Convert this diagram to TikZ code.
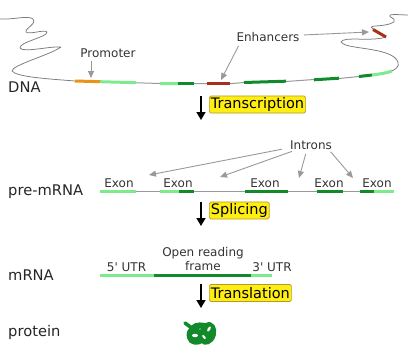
\documentclass[tikz,border=0pt]{standalone}
\usepackage{fontspec}
\setmainfont{DejaVu Sans}
\newfontfamily\plainfont{DejaVu Sans}
\usetikzlibrary{arrows.meta}
\definecolor{lightex}{HTML}{7EEA8E}
\definecolor{darkex}{HTML}{128A2B}
\definecolor{promo}{HTML}{E8941A}
\definecolor{enh}{HTML}{A8301A}
\definecolor{strand}{HTML}{999999}
\definecolor{lbl}{HTML}{333333}
\definecolor{stepfill}{HTML}{FFEE11}
\definecolor{stepline}{HTML}{B09A30}
\tikzset{
  x=1pt,y=-1pt,
  strandline/.style={draw=strand,line width=1pt},
  thinstrand/.style={draw=strand!80!black,line width=0.75pt,line join=round},
  seg/.style={line width=3pt},
  tag/.style={text=lbl,font=\plainfont\fontsize{12}{14}\selectfont,inner sep=0pt,align=center},
  rowlabel/.style={text=black!85,font=\fontsize{14.7}{17}\selectfont,inner sep=0pt,anchor=west},
  stepbox/.style={fill=stepfill,draw=stepline,line width=0.7pt,rounded corners=1.5pt,inner xsep=1.5pt,inner ysep=1.5pt,text=black,font=\fontsize{14.5}{16}\selectfont,anchor=west,minimum height=17pt},
  flow/.style={draw=black,line width=1.5pt,-{Triangle[length=8pt,width=9pt]}},
  pointer/.style={draw=strand,line width=0.9pt,-{Triangle[length=7pt,width=6pt]},shorten <=1pt}
}
\begin{document}
\begin{tikzpicture}
\useasboundingbox (0,0) rectangle (408,356);
% DNA strand
\draw[thinstrand]
  (0,19) .. controls (12,20) and (28,15) .. (33,19)
  .. controls (37,24) and (25,28) .. (26,32)
  .. controls (30,35) and (44,29) .. (47,32)
  .. controls (48,37) and (19,42) .. (20,48)
  .. controls (23,53) and (50,46) .. (61,47)
  .. controls (50,55) and (12,65) .. (12,71)
  .. controls (16,77) and (50,79) .. (75,81);
\draw[strandline] (100,81.7) -- (160,83.5) (194,83.7) -- (207,83.7) (230,83.7) -- (244,82.5) (286,81.5) -- (314,79.5) (339,78.5) -- (359,76.5);
\draw[thinstrand]
  (392,71) .. controls (398,68) and (402,64) .. (394,57)
  .. controls (380,47) and (345,49) .. (341,42)
  .. controls (343,36) and (372,42) .. (386,37);
\draw[thinstrand]
  (373,29) .. controls (366,24) and (384,28) .. (394,22)
  .. controls (396,17) and (388,18) .. (390,15)
  .. controls (394,14) and (402,15) .. (408,15);
\draw[seg,promo] (75,81) -- (100,81.7);
\draw[seg,lightex] (100,81.7) -- (136,82.7);
\draw[seg,lightex] (160,83.5) -- (178,83.7);
\draw[seg,darkex] (178,83.7) -- (194,83.7);
\draw[seg,enh] (207,83.7) -- (230,83.7);
\draw[seg,darkex] (244,82.5) -- (286,81.2);
\draw[seg,darkex] (314,79.8) -- (339,78.2);
\draw[seg,darkex] (359,76.5) -- (372,75);
\draw[seg,lightex] (372,75) .. controls (380,74) and (387,73) .. (392,71);
\draw[seg,enh] (373,29.5) -- (386,37);
% DNA annotations
\node[tag] (promoter) at (108,53) {Promoter};
\coordinate (promoterEnd) at (91,78);
\draw[pointer] (promoter.south -| promoterEnd) ++(0,2) -- (promoterEnd);
\node[tag] (enhancers) at (268,37.5) {Enhancers};
\coordinate (enhA) at (221,80);
\coordinate (enhB) at (369,32);
\draw[pointer] (239,45) -- (enhA);
\draw[pointer] (303,35) -- (enhB);
\node[rowlabel] (dna) at (8,87.5) {DNA};
% Transcription
\draw[flow] (201,96) -- (201,120);
\node[stepbox] (transcription) at (209,104.5) {Transcription};
% pre-mRNA
\node[rowlabel] (pre) at (8,191.5) {pre-mRNA};
\draw[strandline] (100,191.5) -- (394,191.5);
\draw[seg,lightex] (100,191.5) -- (136,191.5);
\draw[seg,lightex] (160,191.5) -- (179,191.5);
\draw[seg,darkex] (179,191.5) -- (194,191.5);
\draw[seg,darkex] (245,191.5) -- (288,191.5);
\draw[seg,darkex] (317,191.5) -- (343,191.5);
\draw[seg,darkex] (360,191.5) -- (374,191.5);
\draw[seg,lightex] (374,191.5) -- (394,191.5);
\node[tag] (e1) at (119,183) {Exon};
\node[tag] (e2) at (178,183) {Exon};
\node[tag] (e3) at (265,183) {Exon};
\node[tag] (e4) at (329,183) {Exon};
\node[tag] (e5) at (377,183) {Exon};
\node[tag] (introns) at (311,145) {Introns};
\draw[pointer] (283,149) -- (149,175);
\draw[pointer] (293,151) -- (220,177);
\draw[pointer] (306,153) -- (299,178);
\draw[pointer] (330,151) -- (353,178);
% Splicing
\draw[flow] (201,202) -- (201,226);
\node[stepbox] (splicing) at (209,210.5) {Splicing};
% mRNA
\node[rowlabel] (mrna) at (8,275.5) {mRNA};
\draw[seg,lightex] (100,275.5) -- (154,275.5);
\draw[seg,darkex] (154,275.5) -- (251,275.5);
\draw[seg,lightex] (251,275.5) -- (272,275.5);
\node[tag] (utr5) at (126.5,267) {5' UTR};
\node[tag] (orf) at (203,259) {Open reading\\frame};
\node[tag] (utr3) at (272,267) {3' UTR};
% Translation
\draw[flow] (201,284) -- (201,308);
\node[stepbox] (translation) at (209,293) {Translation};
% protein: a tangled chain, with small gaps left between its folds
\node[rowlabel] (protein) at (8,332) {protein};
\draw[darkex,line width=3.6pt,line cap=round,line join=round,fill=darkex]
  (185,323) .. controls (188,325) and (190,327) .. (192,328)
  .. controls (196,322) and (204,325) .. (206,325)
  .. controls (212,321) and (216,329) .. (214,335)
  .. controls (212,343) and (204,345) .. (202,341)
  .. controls (199,344) and (190,344) .. (189,338)
  .. controls (187,333) and (190,330) .. (192,328);
\fill[white] (195,335.5) ellipse (3pt and 1.7pt);
\fill[white,rotate around={60:(209,329)}] (209,329) ellipse (2.8pt and 1.3pt);
\fill[white,rotate around={-50:(204,337)}] (204,337) ellipse (2.4pt and 1.2pt);
\fill[white] (200,329) circle (0.7pt);
\end{tikzpicture}
\end{document}
